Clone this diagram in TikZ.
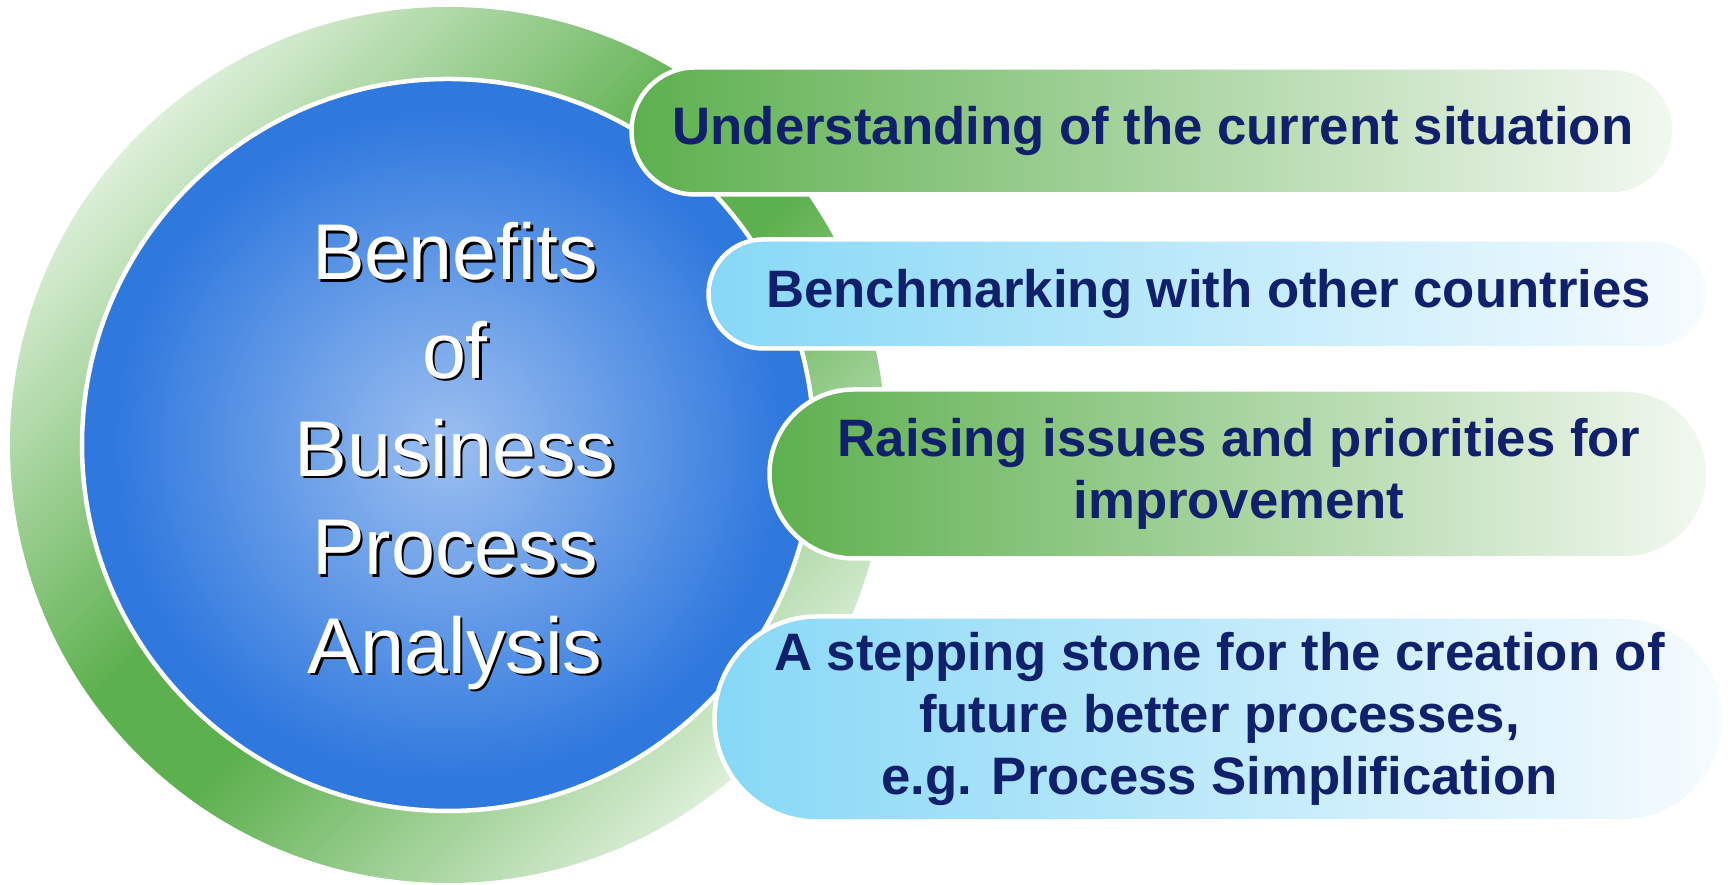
\documentclass[tikz,border=0pt]{standalone}
\usepackage{fontspec}
\setmainfont{Liberation Sans}
\usetikzlibrary{positioning}

\definecolor{ringgreen}{HTML}{5DB04E}
\definecolor{ringpale}{HTML}{DDEFD9}
\definecolor{disclight}{HTML}{9CBFF0}
\definecolor{discdark}{HTML}{2F78DE}
\definecolor{pillgreen}{HTML}{5DB04E}
\definecolor{pillgreenend}{HTML}{F3F8F1}
\definecolor{pillblue}{HTML}{86D8F6}
\definecolor{pillblueend}{HTML}{F7FBFE}
\definecolor{navy}{HTML}{10206B}

\pgfdeclareverticalshading{ringfill}{100bp}{color(0bp)=(ringpale); color(25bp)=(ringpale); color(46bp)=(ringgreen); color(54bp)=(ringgreen); color(75bp)=(ringpale); color(100bp)=(ringpale)}
\pgfdeclareradialshading{discfill}{\pgfpoint{0bp}{0bp}}{color(0bp)=(disclight); color(23bp)=(discdark); color(25bp)=(discdark); color(50bp)=(discdark)}

\begin{document}
\begin{tikzpicture}[x=1mm, y=1mm,
  pill/.style={rectangle, draw=white, line width=.45mm, inner sep=0pt, align=center,
    text=navy, font=\fontsize{15}{17.7}\selectfont\bfseries},
  pillsize/.style n args={2}{minimum width=#1mm, minimum height=#2mm, rounded corners=#2*0.499mm},
  greenpill/.style={pill, left color=pillgreen, right color=pillgreenend},
  bluepill/.style={pill, left color=pillblue, right color=pillblueend},
  titletext/.style={align=center, inner sep=0pt, font=\fontsize{22.5}{28}\selectfont}]

\fill[white] (0,0) rectangle (172.8,88.5);
\useasboundingbox (0,0) rectangle (172.8,88.5);

\coordinate (ctr) at (44.8,44.0);

% green ring, pale towards upper left and lower right
\begin{scope}[transform canvas={rotate around={45:(ctr)}}]
  \shade[shading=ringfill] (ctr) circle[radius=43.8mm];
\end{scope}
\shadedraw[shading=discfill, draw=white, line width=.45mm] (ctr) circle[radius=36.6mm];

\node[titletext, text=black] (titleshadow) at (45.75,42.65) {Benefits\\of\\Business\\Process\\Analysis};
\node[titletext, text=white] (title) at ([shift={(-.25,.25)}]titleshadow) {Benefits\\of\\Business\\Process\\Analysis};

\node[greenpill, pillsize={104.3}{12.7}] (understanding) at (115.3,75.4) {Understanding of the current situation};
\node[bluepill, pillsize={100.0}{10.9}] (benchmarking) at (120.85,59.1) {Benchmarking with other countries};
\node[greenpill, pillsize={93.9}{16.9}] (raising) at (123.9,41.1) {Raising issues and priorities for\\improvement};
\node[bluepill, pillsize={101.0}{20.5}] (stepping) at (121.95,16.6) {A stepping stone for the creation of\\future better processes,\\e.g. Process Simplification};

\end{tikzpicture}
\end{document}
